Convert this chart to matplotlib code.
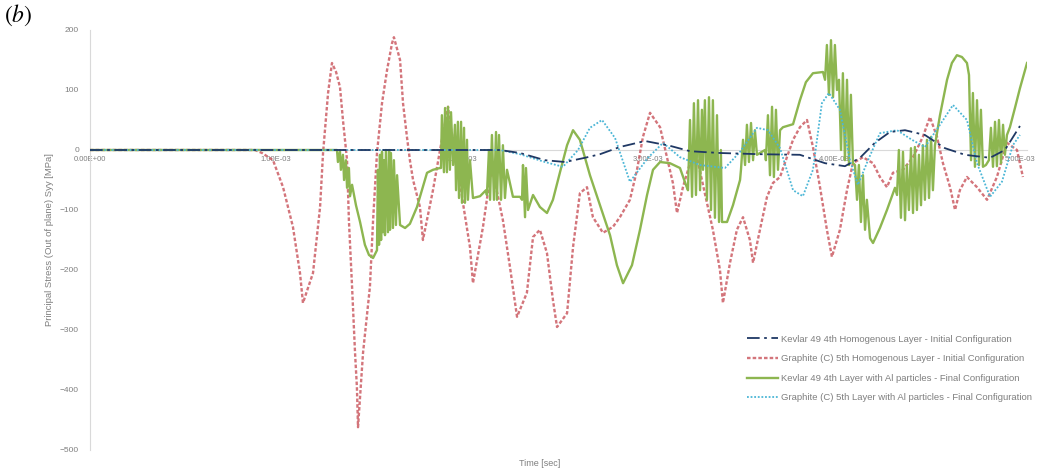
import numpy as np
import matplotlib.pyplot as plt
from matplotlib.ticker import FuncFormatter

# time in ms, principal stress Syy in MPa
kev_init_t = [0.000, 2.204, 2.312, 2.446, 2.554, 2.661, 2.742, 2.849, 2.984, 3.118, 3.226,
              3.387, 3.602, 3.817, 3.952, 4.059, 4.140, 4.220, 4.301, 4.382, 4.489, 4.597,
              4.704, 4.839, 4.919, 5.000]
kev_init_s = [0, 0, -5, -17, -20, -13, -7, 5, 15, 7, -2,
              -5, -7, -8, -22, -27, -13, 12, 30, 33, 25, 3,
              -8, -13, 0, 40]

gra_init_t = [0.000, 0.887, 0.925, 0.984, 1.038, 1.091, 1.129, 1.145, 1.199, 1.237, 1.253,
              1.280, 1.301, 1.323, 1.344, 1.360, 1.382, 1.392, 1.409, 1.425, 1.435, 1.441,
              1.468, 1.505, 1.522, 1.543, 1.570, 1.597, 1.624, 1.634, 1.667, 1.683, 1.704,
              1.720, 1.737, 1.774, 1.790, 1.844, 1.882, 1.925, 1.935, 1.973, 2.005, 2.043,
              2.059, 2.113, 2.151, 2.167, 2.220, 2.258, 2.296, 2.349, 2.382, 2.419, 2.457,
              2.489, 2.511, 2.565, 2.597, 2.634, 2.672, 2.704, 2.758, 2.812, 2.849, 2.903,
              2.941, 2.973, 3.011, 3.065, 3.102, 3.134, 3.156, 3.188, 3.226, 3.263, 3.317,
              3.349, 3.387, 3.403, 3.441, 3.478, 3.511, 3.548, 3.565, 3.602, 3.640, 3.672,
              3.710, 3.747, 3.780, 3.817, 3.855, 3.887, 3.925, 3.962, 3.989, 4.032, 4.070,
              4.102, 4.156, 4.210, 4.247, 4.285, 4.317, 4.371, 4.425, 4.478, 4.516, 4.554,
              4.586, 4.624, 4.651, 4.677, 4.715, 4.769, 4.823, 4.876, 4.930, 4.984, 5.016]
gra_init_s = [0, 0, -5, -17, -62, -128, -205, -255, -205, -95, -5,
              95, 145, 130, 105, 50, -17, -117, -228, -338, -395, -462,
              -338, -228, -117, -5, 78, 133, 178, 188, 150, 78, 22,
              -17, -50, -95, -150, -67, 0, 72, 45, -17, -88, -162,
              -222, -128, -45, -38, -117, -195, -278, -238, -145, -133, -172,
              -250, -295, -272, -162, -72, -62, -112, -138, -128, -112, -83,
              -33, 22, 62, 38, -12, -55, -105, -62, -22, -12, -88,
              -133, -200, -255, -188, -133, -112, -150, -188, -133, -78, -55,
              -45, -12, 17, 38, 50, 5, -62, -133, -178, -133, -67,
              -22, -12, -22, -45, -62, -38, -33, -12, 22, 55, 22,
              -22, -62, -100, -67, -45, -62, -83, -45, 12, 0, -45]

kev_final_t = [0.000, 1.317,
               1.328, 1.333, 1.344, 1.349, 1.360, 1.366, 1.376, 1.382, 1.392, 1.398, 1.409,
               1.430, 1.452, 1.478, 1.500, 1.522, 1.538,
               1.543, 1.548, 1.554, 1.559, 1.565, 1.570, 1.575, 1.581,
               1.586, 1.591, 1.602, 1.608, 1.613, 1.618, 1.629, 1.634, 1.645, 1.651,
               1.667, 1.694, 1.720, 1.758, 1.812, 1.844, 1.882,
               1.887, 1.892, 1.903, 1.909, 1.919, 1.925, 1.935, 1.941, 1.952,
               1.962, 1.968, 1.978, 1.984, 1.995, 2.000, 2.011, 2.016, 2.027, 2.032, 2.043,
               2.059, 2.097, 2.129,
               2.134, 2.145, 2.151, 2.161, 2.172, 2.183, 2.188, 2.199, 2.210, 2.220, 2.231, 2.242,
               2.274, 2.312,
               2.323, 2.328, 2.339, 2.344, 2.355,
               2.382, 2.419, 2.457, 2.489, 2.527, 2.565, 2.597, 2.634, 2.688, 2.742, 2.796,
               2.833, 2.866, 2.914, 2.957, 2.995, 3.027, 3.065, 3.118, 3.172, 3.204,
               3.215, 3.226, 3.237, 3.247, 3.258, 3.269, 3.280, 3.290, 3.296,
               3.306, 3.317, 3.328, 3.339, 3.349, 3.360, 3.371, 3.382, 3.392, 3.398,
               3.425, 3.457, 3.495,
               3.500, 3.511, 3.522, 3.532, 3.543, 3.554, 3.565, 3.575, 3.586,
               3.602, 3.629,
               3.634, 3.645, 3.656, 3.667, 3.677, 3.688, 3.699, 3.710,
               3.726, 3.780, 3.817, 3.849, 3.887, 3.941,
               3.952, 3.962, 3.973, 3.984, 3.995, 4.005, 4.016,
               4.027, 4.038, 4.048, 4.059, 4.070, 4.081, 4.091, 4.102,
               4.113, 4.124, 4.134, 4.145, 4.156, 4.167, 4.177,
               4.194, 4.210, 4.247, 4.285, 4.328,
               4.339, 4.349, 4.360, 4.371, 4.382, 4.392,
               4.403, 4.414, 4.425, 4.435, 4.446, 4.457, 4.468,
               4.478, 4.489, 4.500, 4.511, 4.522, 4.532, 4.543,
               4.570, 4.608, 4.634, 4.661, 4.688, 4.715,
               4.726, 4.737, 4.747, 4.758, 4.769, 4.780, 4.790, 4.801,
               4.817,
               4.833, 4.844, 4.855, 4.866, 4.876, 4.887, 4.898, 4.909, 4.919, 4.930,
               4.946, 4.973, 5.000, 5.038]
kev_final_s = [0, 0,
               0, -20, -2, -33, -8, -50, -17, -63, -30, -77, -58,
               -92, -120, -158, -175, -180, -170,
               -167, -33, -158, -8, -150, -3, -137, -17,
               -142, 0, -137, 0, -133, -5, -130, -17, -125, -42,
               -125, -130, -123, -95, -38, -33, -30,
               -30, 58, -37, 70, -37, 72, -33, 63, -25,
               42, -67, 47, -80, 47, -88, 37, -88, 17, -83, -17,
               -80, -77, -67,
               -75, 0, -83, 25, -83, 30, -83, 25, -83, 8, -80, -33,
               -78, -78,
               -83, -25, -112, -30, -100,
               -75, -95, -105, -83, -37, 8, 33, 17, -42, -92, -142,
               -192, -222, -192, -133, -75, -33, -20, -22, -30, -58,
               -67, 50, -78, 78, -75, 83, -67, 67, -33,
               83, -83, 88, -100, 83, -113, 58, -120, 0, -120,
               -120, -92, -50,
               -33, 17, -25, 42, -20, 45, -17, 33, -8,
               -5, 0,
               -17, 58, -42, 72, -45, 67, -33, 33,
               38, 43, 83, 113, 128, 130,
               117, 175, 92, 183, 88, 175, 100,
               117, 0, 128, -17, 117, -25, 92, -22,
               -25, -83, -25, -120, -42, -133, -83,
               -147, -155, -130, -100, -63,
               -75, 0, -113, -3, -117, -25,
               -100, 3, -105, 5, -100, -8, -92,
               8, -83, 17, -80, 22, -67, 8,
               58, 117, 145, 158, 155, 145,
               125, -17, 95, -28, 83, -25, 67, -28,
               -25,
               -17, 37, -28, 47, -27, 50, -22, 42, -8, 25,
               38, 70, 103, 145]

gra_final_t = [0.000, 2.204, 2.312, 2.446, 2.543, 2.624, 2.688, 2.753, 2.823, 2.903, 3.000,
               3.081, 3.172, 3.280, 3.414, 3.495, 3.586, 3.645, 3.710, 3.780, 3.833, 3.887,
               3.935, 3.973, 4.032, 4.086, 4.129, 4.183, 4.247, 4.339, 4.419, 4.489, 4.570,
               4.640, 4.715, 4.769, 4.839, 4.903, 4.962, 5.000]
gra_final_s = [0, 0, -7, -20, -28, 0, 37, 50, 20, -53, -13,
               12, -12, -25, -30, -3, 37, 33, 3, -67, -77, -33,
               78, 95, 67, -17, -58, -17, 28, 33, 17, 5, 42,
               75, 50, -22, -78, -53, 8, 25]

labels = ["Kevlar 49 4th Homogenous Layer - Initial Configuration",
          "Graphite (C) 5th Homogenous Layer - Initial Configuration",
          "Kevlar 49 4th Layer with Al particles - Final Configuration",
          "Graphite (C) 5th Layer with Al particles - Final Configuration"]

grey = "#7f7f7f"
plt.rcParams['font.family'] = ['Liberation Sans', 'DejaVu Sans']

fig = plt.figure(figsize=(10.4, 4.72), dpi=100)
ax = fig.add_axes([90 / 1040, 22 / 472, 937.4 / 1040, 420 / 472])

ms = 1e-3
ax.plot(np.array(kev_init_t) * ms, kev_init_s, color="#1f3864", lw=1.3,
        linestyle=(0, (7, 2.5, 1.5, 2.5)), label=labels[0], zorder=5)
ax.plot(np.array(gra_init_t) * ms, gra_init_s, color="#c9525a", lw=1.7,
        linestyle=(0, (1.5, 0.9)), alpha=0.8, label=labels[1], zorder=3)
ax.plot(np.array(kev_final_t) * ms, kev_final_s, color="#8db650", lw=1.7,
        solid_joinstyle="round", label=labels[2], zorder=4)
ax.plot(np.array(gra_final_t) * ms, gra_final_s, color="#4bb6d6", lw=1.3,
        linestyle=(0, (1, 1)), label=labels[3], zorder=4)

ax.set_xlim(0, 5.04e-3)
ax.set_ylim(-500, 200)
ax.set_xticks(np.arange(0, 6) * ms)
ax.set_yticks([200, 100, 0, -100, -200, -300, -400, -500])
ax.xaxis.set_major_formatter(FuncFormatter(lambda v, p: f"{v:.2E}"))

for side in ["top", "right"]:
    ax.spines[side].set_visible(False)
ax.spines["bottom"].set_position(("data", 0))
ax.spines["bottom"].set_color("#d9d9d9")
ax.spines["left"].set_color("#d9d9d9")
ax.spines["bottom"].set_zorder(1)
ax.tick_params(axis="x", length=0, labelsize=5.5, labelcolor=grey, pad=4)
ax.tick_params(axis="y", length=0, labelsize=6, labelcolor=grey, pad=8)

fig.text(50 / 1040, 1 - 240 / 472, "Principal Stress (Out of plane) Syy [MPa]",
         rotation=90, ha="center", va="center", fontsize=6.8, color=grey)
fig.text(540 / 1040, 1 - 463 / 472, "Time [sec]", ha="center", va="center",
         fontsize=6.5, color=grey)
fig.text(4 / 1040, 1 - 3 / 472, r"$(\mathit{b})$", ha="left", va="top",
         fontsize=17, math_fontfamily="stix")

leg = ax.legend(loc="upper left", bbox_to_anchor=(742 / 1040, 1 - 330 / 472),
                bbox_transform=fig.transFigure, frameon=False, fontsize=6.8,
                handlelength=3.3, handletextpad=0.3, labelspacing=1.12,
                borderpad=0)
for txt in leg.get_texts():
    txt.set_color(grey)

fig.savefig("out.png", dpi=100)
